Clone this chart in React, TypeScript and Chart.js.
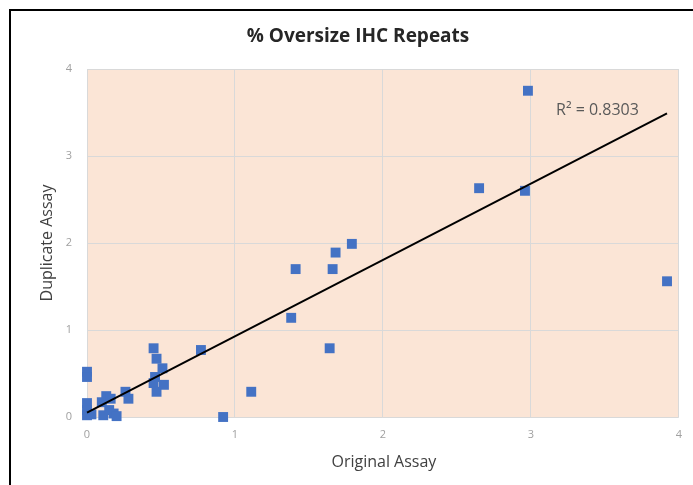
import React, { useEffect, useRef } from "react";
import { Chart, registerables } from "chart.js";

Chart.register(...registerables);

const TITLE = "% Oversize IHC Repeats";
const X_TITLE = "Original Assay";
const Y_TITLE = "Duplicate Assay";
const R2_LABEL = "R² = 0.8303";

const originalAssay = [
  2.98, 2.65, 2.96, 3.92, 1.79, 1.68, 1.41, 1.66, 1.38, 1.64, 1.11, 0.92, 0.77,
  0.45, 0.47, 0.51, 0.46, 0.45, 0.52, 0.47,
  0.26, 0.28, 0.13, 0.1, 0.16, 0.11, 0.15, 0.18, 0.2,
  0, 0, 0, 0, 0, 0.03,
];
const duplicateAssay = [
  3.75, 2.63, 2.6, 1.56, 1.99, 1.89, 1.7, 1.7, 1.14, 0.79, 0.29, 0.0, 0.77,
  0.79, 0.67, 0.56, 0.46, 0.39, 0.37, 0.29,
  0.29, 0.21, 0.24, 0.17, 0.21, 0.02, 0.08, 0.04, 0.01,
  0.52, 0.46, 0.16, 0.08, 0.02, 0.03,
];
const trendX = [0, 3.92];
const trendY = [0.05, 3.49];
const tickValues = [0, 1, 2, 3, 4];

const FONT = "'Open Sans', 'Noto Sans', sans-serif";

export default function App() {
  const ref = useRef<HTMLCanvasElement | null>(null);

  useEffect(() => {
    if (!ref.current) return;
    const decor = {
      id: "decor",
      beforeDraw(chart: any) {
        const { ctx, chartArea } = chart;
        ctx.save();
        ctx.fillStyle = "#ffffff";
        ctx.fillRect(0, 0, chart.width, chart.height);
        ctx.fillStyle = "#FBE5D6";
        ctx.fillRect(chartArea.left, chartArea.top, chartArea.right - chartArea.left, chartArea.bottom - chartArea.top);
        ctx.strokeStyle = "#000000";
        ctx.lineWidth = 2;
        ctx.beginPath();
        ctx.moveTo(10, chart.height);
        ctx.lineTo(10, 10);
        ctx.lineTo(chart.width, 10);
        ctx.stroke();
        ctx.restore();
      },
      afterDraw(chart: any) {
        const { ctx, chartArea, scales } = chart;
        ctx.save();
        ctx.textAlign = "center";
        ctx.textBaseline = "middle";
        ctx.fillStyle = "#262626";
        ctx.font = `bold 19px ${FONT}`;
        ctx.fillText(TITLE, 358, 37);
        ctx.fillStyle = "#404040";
        ctx.font = `16px ${FONT}`;
        ctx.fillText(X_TITLE, (chartArea.left + chartArea.right) / 2 + 1, 462);
        ctx.save();
        ctx.translate(47, (chartArea.top + chartArea.bottom) / 2);
        ctx.rotate(-Math.PI / 2);
        ctx.fillText(Y_TITLE, 0, 0);
        ctx.restore();
        ctx.fillStyle = "#595959";
        ctx.font = `16px ${FONT}`;
        ctx.fillText(R2_LABEL, scales.x.getPixelForValue(3.45), scales.y.getPixelForValue(3.52));
        ctx.restore();
      },
    };

    const points = originalAssay.map((x, i) => ({ x, y: duplicateAssay[i] }));
    const trend = trendX.map((x, i) => ({ x, y: trendY[i] }));

    const chart = new Chart(ref.current, {
      type: "scatter",
      data: {
        datasets: [
          {
            label: "Trend",
            data: trend,
            showLine: true,
            borderColor: "#000000",
            borderWidth: 2,
            pointRadius: 0,
            order: 0,
            clip: false,
          } as any,
          {
            label: "Data",
            data: points,
            pointStyle: "rect",
            pointRadius: 7,
            backgroundColor: "#4472C4",
            borderColor: "#4472C4",
            borderWidth: 0,
            order: 1,
            clip: false,
          } as any,
        ],
      },
      options: {
        responsive: false,
        animation: false,
        layout: { padding: { left: 30, right: 12, top: 69, bottom: 13 } },
        plugins: {
          legend: { display: false },
          title: { display: false },
          tooltip: { enabled: false },
        },
        scales: {
          x: {
            type: "linear",
            min: 0,
            max: 4,
            afterBuildTicks: (s: any) => {
              s.ticks = tickValues.map((v) => ({ value: v }));
            },
            afterFit: (s: any) => {
              s.height = 55;
            },
            ticks: { color: "#a0a0a0", font: { family: FONT, size: 11 }, padding: 11 },
            grid: { color: "#d9d9d9", drawTicks: false, lineWidth: 1 },
            border: { display: false },
          },
          y: {
            type: "linear",
            min: 0,
            max: 4,
            afterBuildTicks: (s: any) => {
              s.ticks = tickValues.map((v) => ({ value: v }));
            },
            afterFit: (s: any) => {
              s.width = 57;
            },
            ticks: { color: "#a0a0a0", font: { family: FONT, size: 11 }, padding: 15 },
            grid: { color: "#d9d9d9", drawTicks: false, lineWidth: 1 },
            border: { display: false },
          },
        },
      },
      plugins: [decor],
    });
    return () => chart.destroy();
  }, []);

  return (
    <div style={{ position: "fixed", left: 0, top: 0, width: 693, height: 485, background: "#fff" }}>
      <canvas ref={ref} width={693} height={485} style={{ display: "block" }} />
    </div>
  );
}
